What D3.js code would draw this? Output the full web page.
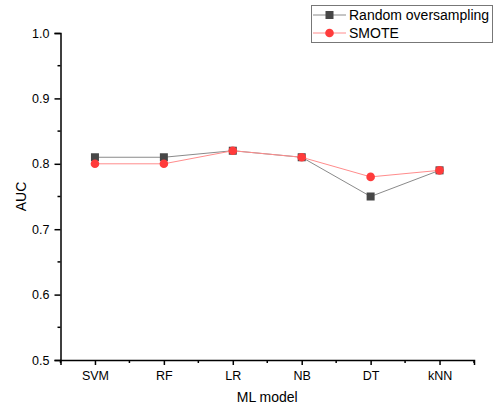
<!DOCTYPE html>
<html>
<head>
<meta charset="utf-8">
<script src="https://cdn.jsdelivr.net/npm/d3@7"></script>
<style>
  body { margin: 0; background: #fff; }
  text { font-family: "Liberation Sans", Arial, sans-serif; fill: #000; }
</style>
</head>
<body>
<svg id="chart" width="496" height="407"></svg>
<script>
// Data
const models = ['SVM', 'RF', 'LR', 'NB', 'DT', 'kNN'];
const randomOversampling = [0.81, 0.81, 0.82, 0.81, 0.75, 0.79];
const smote = [0.80, 0.80, 0.82, 0.81, 0.78, 0.79];
const yTicks = [0.5, 0.6, 0.7, 0.8, 0.9, 1.0];
const yMinorTicks = [0.55, 0.65, 0.75, 0.85, 0.95];

const svg = d3.select('#chart');
const plotLeft = 60.5, plotRight = 474, plotTop = 33, plotBottom = 360;

const x = d3.scalePoint().domain(models).range([plotLeft, plotRight]).padding(0.5);
const y = d3.scaleLinear().domain([0.5, 1.0]).range([plotBottom, plotTop]);

// minor x ticks on category boundaries
const step = x.step();
const xMinor = d3.range(models.length + 1).map(i => plotLeft + i * step);

// x axis
svg.append('g')
  .selectAll('line.xminor')
  .data(xMinor)
  .enter().append('line')
  .attr('x1', d => d).attr('x2', d => d)
  .attr('y1', plotBottom).attr('y2', plotBottom + 3)
  .attr('stroke', '#000').attr('stroke-width', 1.5);

const xAxis = svg.append('g')
  .attr('transform', 'translate(0,' + plotBottom + ')')
  .call(d3.axisBottom(x).tickSize(5).tickPadding(6));
xAxis.select('.domain').attr('stroke-width', 1.5);
xAxis.selectAll('.tick line').attr('stroke-width', 1.5);
xAxis.selectAll('.tick text')
  .attr('font-size', '12.5px')
  .attr('font-family', '"Liberation Sans", Arial, sans-serif')
  .attr('fill', '#000');

// y axis
svg.append('g')
  .selectAll('line.yminor')
  .data(yMinorTicks)
  .enter().append('line')
  .attr('x1', plotLeft).attr('x2', plotLeft - 3)
  .attr('y1', d => y(d)).attr('y2', d => y(d))
  .attr('stroke', '#000').attr('stroke-width', 1.5);

const yAxis = svg.append('g')
  .attr('transform', 'translate(' + plotLeft + ',0)')
  .call(d3.axisLeft(y).tickValues(yTicks).tickFormat(d3.format('.1f')).tickSize(6).tickPadding(5));
yAxis.select('.domain').attr('stroke-width', 1.5);
yAxis.selectAll('.tick line').attr('stroke-width', 1.5);
yAxis.selectAll('.tick text')
  .attr('font-size', '12.5px')
  .attr('font-family', '"Liberation Sans", Arial, sans-serif')
  .attr('fill', '#000');

// axis titles
svg.append('text')
  .attr('x', (plotLeft + plotRight) / 2).attr('y', 402)
  .attr('text-anchor', 'middle')
  .attr('font-size', '14px')
  .text('ML model');

svg.append('text')
  .attr('transform', 'translate(26,' + ((plotTop + plotBottom) / 2) + ') rotate(-90)')
  .attr('text-anchor', 'middle')
  .attr('font-size', '14px')
  .text('AUC');

// series
const series = [
  { name: 'Random oversampling', values: randomOversampling, line: '#8a8a8a', fill: '#474747', shape: 'square' },
  { name: 'SMOTE', values: smote, line: '#ff8c8c', fill: '#ff3b3b', shape: 'circle' }
];

const line = d3.line().x((d, i) => x(models[i])).y(d => y(d));

function drawMarker(g, s, cx, cy) {
  if (s.shape === 'square') {
    g.append('rect')
      .attr('x', cx - 4).attr('y', cy - 4)
      .attr('width', 8).attr('height', 8)
      .attr('fill', s.fill);
  } else {
    g.append('circle')
      .attr('cx', cx).attr('cy', cy).attr('r', 4.3)
      .attr('fill', s.fill);
  }
}

series.forEach(s => {
  const g = svg.append('g');
  g.append('path')
    .datum(s.values)
    .attr('d', line)
    .attr('fill', 'none')
    .attr('stroke', s.line)
    .attr('stroke-width', 1);
  s.values.forEach((v, i) => drawMarker(g, s, x(models[i]), y(v)));
});

// legend
const legend = svg.append('g');
legend.append('rect')
  .attr('x', 311.5).attr('y', 5.5)
  .attr('width', 181).attr('height', 37)
  .attr('fill', '#fff')
  .attr('stroke', '#777').attr('stroke-width', 1);

series.forEach((s, i) => {
  const cy = 15 + i * 18;
  legend.append('line')
    .attr('x1', 313).attr('x2', 346)
    .attr('y1', cy).attr('y2', cy)
    .attr('stroke', s.line).attr('stroke-width', 1);
  drawMarker(legend, s, 329.5, cy);
  legend.append('text')
    .attr('x', 349).attr('y', cy)
    .attr('dy', '0.36em')
    .attr('font-size', '14px')
    .text(s.name);
});
</script>
</body>
</html>
